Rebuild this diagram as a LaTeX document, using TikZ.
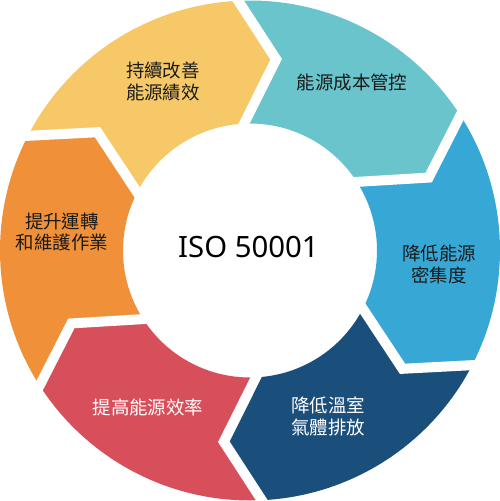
\documentclass[tikz,border=0pt]{standalone}
\usepackage{fontspec}
\setmainfont{Noto Sans}
\newfontfamily\cjk{Noto Sans CJK TC}
\usepackage{tikz}
\usetikzlibrary{positioning}
\usepackage{xcolor}
\definecolor{segyellow}{RGB}{246,200,104}
\definecolor{segteal}{RGB}{106,196,204}
\definecolor{segblue}{RGB}{55,168,214}
\definecolor{segnavy}{RGB}{27,79,123}
\definecolor{segred}{RGB}{214,79,91}
\definecolor{segorange}{RGB}{240,145,58}
\definecolor{labeltext}{RGB}{26,26,26}

\begin{document}
\begin{tikzpicture}[font=\cjk\fontsize{10.5}{12.5}\selectfont,
  gap/.style={draw=white,line width=0.2cm,line cap=rect,line join=miter},
  steplabel/.style={align=center,text=labeltext,inner sep=0pt}]
\useasboundingbox (-5,-5.01) rectangle (5,5.01);
% Ring segments, clockwise
\fill[segyellow] (152.7:5) arc[start angle=152.7,end angle=92.7,radius=5] -- (82.2:3.86) -- (92.7:2.54)
  arc[start angle=92.7,end angle=152.7,radius=2.54] -- (142.2:3.86) -- cycle;
\fill[segteal] (92.7:5) arc[start angle=92.7,end angle=32.7,radius=5] -- (22.2:3.86) -- (32.7:2.54)
  arc[start angle=32.7,end angle=92.7,radius=2.54] -- (82.2:3.86) -- cycle;
\fill[segblue] (32.7:5) arc[start angle=32.7,end angle=-27.3,radius=5] -- (-37.8:3.86) -- (-27.3:2.54)
  arc[start angle=-27.3,end angle=32.7,radius=2.54] -- (22.2:3.86) -- cycle;
\fill[segnavy] (-27.3:5) arc[start angle=-27.3,end angle=-87.3,radius=5] -- (-97.8:3.86) -- (-87.3:2.54)
  arc[start angle=-87.3,end angle=-27.3,radius=2.54] -- (-37.8:3.86) -- cycle;
\fill[segred] (-87.3:5) arc[start angle=-87.3,end angle=-147.3,radius=5] -- (-157.8:3.86) -- (-147.3:2.54)
  arc[start angle=-147.3,end angle=-87.3,radius=2.54] -- (-97.8:3.86) -- cycle;
\fill[segorange] (-147.3:5) arc[start angle=-147.3,end angle=-207.3,radius=5] -- (-217.8:3.86) -- (-207.3:2.54)
  arc[start angle=-207.3,end angle=-147.3,radius=2.54] -- (-157.8:3.86) -- cycle;
% White gaps between segments
\draw[gap] (152.7:5) -- (142.2:3.86) -- (152.7:2.54);
\draw[gap] (92.7:5) -- (82.2:3.86) -- (92.7:2.54);
\draw[gap] (32.7:5) -- (22.2:3.86) -- (32.7:2.54);
\draw[gap] (-27.3:5) -- (-37.8:3.86) -- (-27.3:2.54);
\draw[gap] (-87.3:5) -- (-97.8:3.86) -- (-87.3:2.54);
\draw[gap] (-147.3:5) -- (-157.8:3.86) -- (-147.3:2.54);
% Centre
\node[font=\fontsize{16.7}{20}\selectfont,text=black,inner sep=0pt] (iso) at (-0.03,0.06) {ISO 50001};
% Labels
\node[steplabel] (improve) at (-1.74,3.38) {持續改善\\能源績效};
\node[steplabel] (cost) at (2.04,3.37) {能源成本管控};
\node[steplabel] (intensity) at (3.78,-0.27) {降低能源\\密集度};
\node[steplabel,text=white] (ghg) at (1.56,-3.31) {降低溫室\\氣體排放};
\node[steplabel,text=white] (efficiency) at (-2.04,-3.13) {提高能源效率};
\node[steplabel] (operation) at (-3.76,0.37) {提升運轉\\和維護作業};
\end{tikzpicture}
\end{document}
